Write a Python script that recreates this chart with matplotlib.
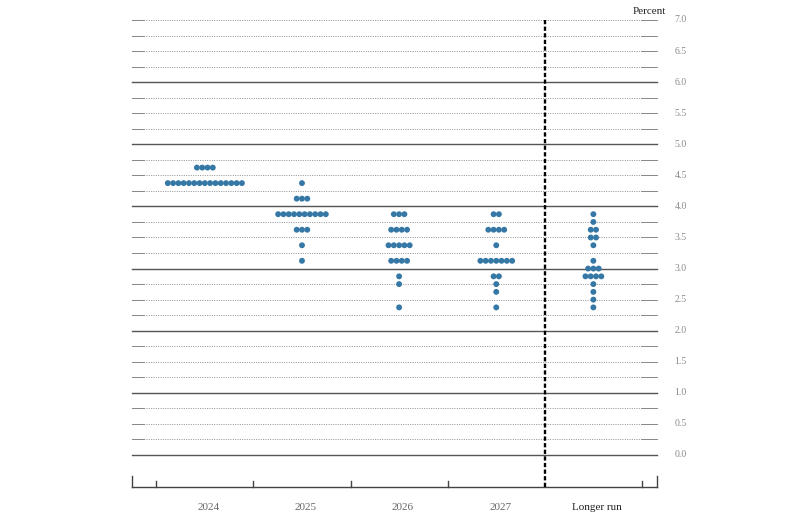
import numpy as np
import matplotlib
matplotlib.use('Agg')
import matplotlib.pyplot as plt

# Dot plot data: for each column, (rate, number of participants)
categories = ['2024', '2025', '2026', '2027', 'Longer run']
dots_2024 = [(4.625, 4), (4.375, 15)]
dots_2025 = [(4.375, 1), (4.125, 3), (3.875, 10), (3.625, 3), (3.375, 1), (3.125, 1)]
dots_2026 = [(3.875, 3), (3.625, 4), (3.375, 5), (3.125, 4), (2.875, 1), (2.75, 1), (2.375, 1)]
dots_2027 = [(3.875, 2), (3.625, 4), (3.375, 1), (3.125, 7), (2.875, 2), (2.75, 1), (2.625, 1), (2.375, 1)]
dots_longer = [(3.875, 1), (3.75, 1), (3.625, 2), (3.5, 2), (3.375, 1), (3.125, 1),
               (3.0, 3), (2.875, 4), (2.75, 1), (2.625, 1), (2.5, 1), (2.375, 1)]
columns = [dots_2024, dots_2025, dots_2026, dots_2027, dots_longer]
y_ticks = [0.0, 0.5, 1.0, 1.5, 2.0, 2.5, 3.0, 3.5, 4.0, 4.5, 5.0, 5.5, 6.0, 6.5, 7.0]

serif = ['Liberation Serif', 'DejaVu Serif']
dot_color = '#3578a6'
x_left, x_right = -0.75, 4.655
y_base = -0.515

fig = plt.figure(figsize=(8, 5.25), dpi=100)
ax = fig.add_axes([132 / 800, 1 - 487 / 525, 525 / 800, 467 / 525])
ax.set_xlim(x_left, x_right)
ax.set_ylim(y_base, 7.0)
ax.axis('off')

# Horizontal grid lines every 0.25
for v in np.arange(0, 7.01, 0.25):
    if v % 1 == 0 and v < 7:
        ax.plot([x_left, x_right], [v, v], color='#555555', lw=1.0, clip_on=False, zorder=1)
    else:
        ax.plot([x_left, x_right], [v, v], color='#8f8f8f', lw=0.7,
                linestyle=(0, (1.0, 1.4)), clip_on=False, zorder=1)
        ax.plot([x_left, -0.63], [v, v], color='#888888', lw=0.7, clip_on=False, zorder=1)
        ax.plot([4.49, x_right], [v, v], color='#888888', lw=0.7, clip_on=False, zorder=1)

# Right-side tick labels
for v in y_ticks:
    ax.text(4.90, v, f'{v:.1f}', ha='center', va='center', fontsize=7,
            color='#8a8a8a', family=serif, clip_on=False)
ax.text(4.75, 7.13, 'Percent', ha='right', va='center', fontsize=8,
        color='#222222', family=serif, clip_on=False)

# Dots
spacing = 0.0545
for i, col in enumerate(columns):
    for rate, n in col:
        xs = i + (np.arange(n) - (n - 1) / 2) * spacing
        ax.scatter(xs, [rate] * n, s=18, color=dot_color, edgecolors='none', zorder=3)

# Bottom axis with ticks
ax.plot([x_left, x_right], [y_base, y_base], color='#444444', lw=1.0, clip_on=False)
for t in [-0.5, 0.5, 1.5, 2.5, 4.5]:
    ax.plot([t, t], [y_base, y_base + 0.1], color='#444444', lw=1.0, clip_on=False)
for t in [x_left, x_right]:
    ax.plot([t, t], [y_base, y_base + 0.18], color='#444444', lw=1.0, clip_on=False)

# Vertical dashed separator before longer run
ax.plot([3.5, 3.5], [y_base, 7.0], color='black', lw=1.7,
        linestyle=(0, (1.8, 1.0)), clip_on=False, zorder=2)

# Category labels
for i, name in enumerate(categories):
    color = '#222222' if name == 'Longer run' else '#666666'
    ax.text(i + 0.04, -0.84, name, ha='center', va='center', fontsize=8,
            color=color, family=serif, clip_on=False)

fig.savefig('out.png', dpi=100, facecolor='white')
